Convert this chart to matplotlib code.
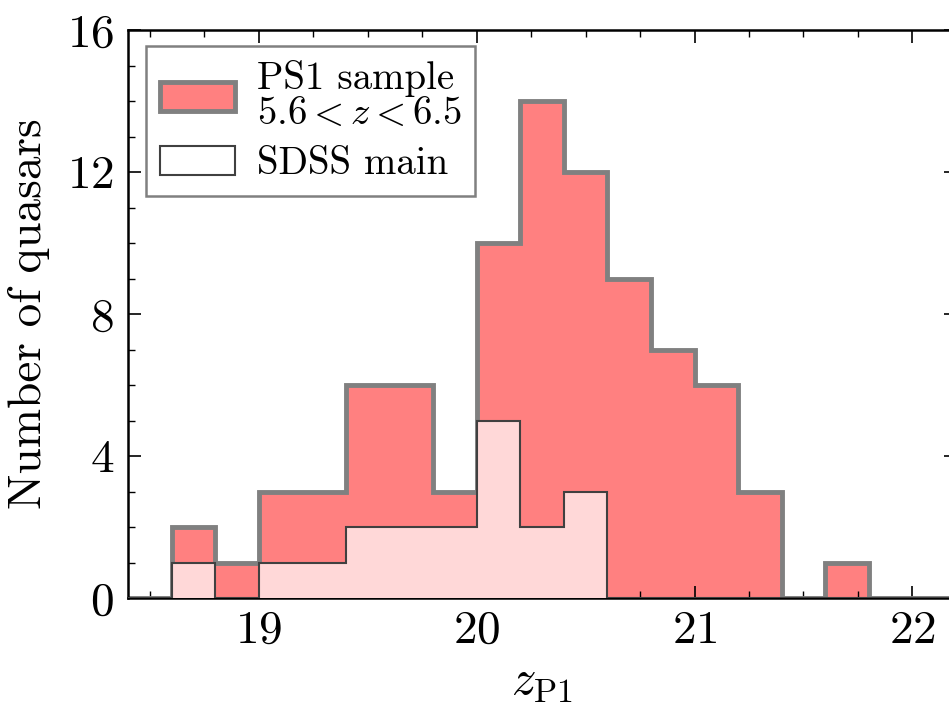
import numpy as np
import matplotlib
matplotlib.use("Agg")
import matplotlib.pyplot as plt
from matplotlib.patches import Patch
from matplotlib.ticker import MultipleLocator

plt.rcParams['font.family'] = 'serif'
plt.rcParams['font.serif'] = ['cmr10']
plt.rcParams['mathtext.fontset'] = 'cm'
plt.rcParams['axes.unicode_minus'] = False
plt.rcParams['axes.formatter.use_mathtext'] = True

# bin edges (width 0.2 mag) and counts
bin_edges = np.round(np.arange(18.2, 22.61, 0.2), 2)
ps1_counts = [0, 0, 2, 1, 3, 3, 6, 6, 3, 10, 14, 12, 9, 7, 6, 3, 0, 1, 0, 0, 0, 0]
sdss_counts = [0, 0, 1, 0, 1, 1, 2, 2, 2, 5, 2, 3, 0, 0, 0, 0, 0, 0, 0, 0, 0, 0]

fig = plt.figure(figsize=(9.49, 7.13), dpi=100)
ax = fig.add_axes([128 / 949, 1 - 598 / 713, 828 / 949, 568 / 713])

ax.stairs(ps1_counts, bin_edges, fill=True, color='#ff8080', zorder=1)
ax.stairs(ps1_counts, bin_edges, color='#808080', linewidth=3.5, zorder=2)
ax.stairs(sdss_counts, bin_edges, fill=True, color='#ffd8d8', zorder=3)
ax.stairs(sdss_counts, bin_edges, color='#404040', linewidth=1.5, zorder=4)

ax.set_xlim(18.4, 22.2)
ax.set_ylim(0, 16)
ax.xaxis.set_major_locator(MultipleLocator(1))
ax.xaxis.set_minor_locator(MultipleLocator(0.25))
ax.yaxis.set_major_locator(MultipleLocator(4))
ax.yaxis.set_minor_locator(MultipleLocator(1))
ax.tick_params(which='both', direction='in', top=True, right=True, labelsize=34)
ax.tick_params(which='major', length=9, width=1.2)
ax.tick_params(axis='x', which='major', pad=9)
ax.tick_params(axis='y', which='major', pad=10)
ax.tick_params(which='minor', length=5, width=1.0)
for s in ax.spines.values():
    s.set_linewidth(1.8)

ax.set_xlabel(r'$z_{\rm P1}$', fontsize=35, labelpad=6)
ax.set_ylabel('Number of quasars', fontsize=34, labelpad=12)

handles = [Patch(facecolor='#ff8080', edgecolor='#808080', linewidth=3.5),
           Patch(facecolor='white', edgecolor='#404040', linewidth=1.5)]
leg = ax.legend(handles, ['PS1 sample\n$5.6 < z < 6.5$', 'SDSS main'],
                loc='upper left', bbox_to_anchor=(18 / 828, 1 - 16 / 568),
                fontsize=28, fancybox=False, borderaxespad=0,
                edgecolor='#808080', framealpha=1, handlelength=1.95,
                handleheight=0.75, handletextpad=0.55, borderpad=0.35,
                labelspacing=0.35)
leg.get_frame().set_linewidth(1.8)
leg.get_texts()[0].set_linespacing(1.0)

fig.savefig('out.png', dpi=100)
